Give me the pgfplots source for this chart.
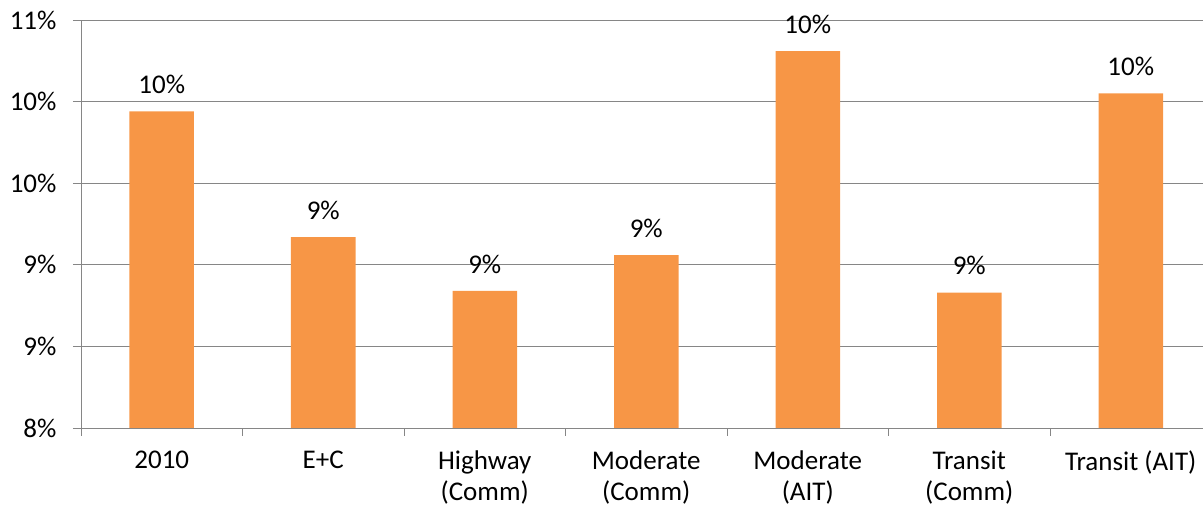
\documentclass[border=0pt]{standalone}
\usepackage{pgfplots}
\pgfplotsset{compat=1.18}
\usepackage{fontspec}
\setmainfont{Carlito}
\definecolor{barorange}{RGB}{247,150,70}
\definecolor{gridgray}{RGB}{134,134,134}
\begin{document}
\begin{tikzpicture}
\useasboundingbox (0,0) rectangle (1203pt,506pt);
\begin{axis}[
  at={(81pt,78pt)}, anchor=south west,
  scale only axis,
  width=1130.5pt, height=408pt,
  xmin=-0.5, xmax=6.5,
  ymin=8, ymax=10.5,
  ybar, bar width=64.5pt,
  axis x line*=bottom, axis y line*=left,
  axis line style={gridgray, line width=0.9pt},
  ytick={8,8.5,9,9.5,10,10.5},
  yticklabels={8\%,9\%,9\%,10\%,10\%,11\%},
  ymajorgrids, grid style={gridgray, line width=0.9pt},
  xtick={0,...,6},
  xticklabels={2010, E+C, Highway\\(Comm), Moderate\\(Comm), Moderate\\(AIT), Transit\\(Comm), Transit (AIT)},
  minor xtick={-0.5,0.5,...,5.5},
  major x tick style={draw=none},
  minor x tick style={gridgray, line width=0.9pt},
  minor tick length=8pt,
  major tick length=8pt,
  y tick style={gridgray, line width=0.9pt},
  tick align=outside,
  tick label style={font=\fontsize{27}{31.7}\selectfont, text=black},
  xticklabel style={align=center, yshift=-11pt},
  yticklabel style={xshift=-13pt},
  /pgf/number format/assume math mode=true,
  nodes near coords={\pgfmathprintnumber[fixed,precision=0,assume math mode=true]{\pgfplotspointmeta}\%},
  every node near coord/.append style={font=\fontsize{27}{31.7}\selectfont, text=black, yshift=14pt},
  point meta=y,
  clip=false,
]
\addplot[fill=barorange, draw=none] coordinates {
  (0,9.94) (1,9.17) (2,8.84) (3,9.06) (4,10.31) (5,8.83) (6,10.05)
};
\end{axis}
\end{tikzpicture}
\end{document}
